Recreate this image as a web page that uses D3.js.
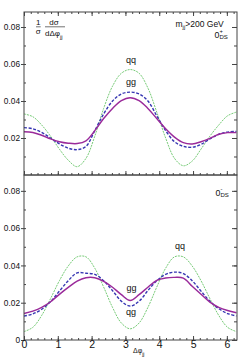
<!DOCTYPE html>
<html>
<head>
<meta charset="utf-8">
<script src="https://cdn.jsdelivr.net/npm/d3@7"></script>
<style>
body { margin: 0; background: #fff; }
text { font-family: "Liberation Sans", Arial, sans-serif; fill: #111; }
</style>
</head>
<body>
<script>
const W = 248;
const H = 358;

// delta phi_jj sample points (0 .. 2pi)
const phi = [0, 0.262, 0.524, 0.785, 1.047, 1.309, 1.571, 1.833, 2.094, 2.356, 2.618, 2.880, 3.142,
  3.403, 3.665, 3.927, 4.189, 4.451, 4.712, 4.974, 5.236, 5.498, 5.760, 6.021, 6.283];

// top panel, 0+ DS
const qqTop = [0.033, 0.0315, 0.027, 0.021, 0.014, 0.008, 0.0045, 0.009, 0.021, 0.036, 0.048, 0.055, 0.057,
  0.055, 0.047, 0.034, 0.020, 0.009, 0.005, 0.0075, 0.014, 0.021, 0.027, 0.032, 0.034];
const qgTop = [0.0256, 0.025, 0.023, 0.020, 0.0168, 0.0145, 0.0137, 0.0155, 0.024, 0.033, 0.040, 0.0438, 0.0448,
  0.0438, 0.040, 0.032, 0.024, 0.018, 0.0155, 0.015, 0.0165, 0.0195, 0.022, 0.0232, 0.0236];
const ggTop = [0.0234, 0.023, 0.0215, 0.0195, 0.018, 0.0172, 0.017, 0.0185, 0.024, 0.0305, 0.036, 0.0402, 0.0418,
  0.0402, 0.036, 0.0305, 0.025, 0.0205, 0.0175, 0.0168, 0.018, 0.0198, 0.022, 0.0229, 0.0229];

// bottom panel, 0- DS
const qqBot = [0.0045, 0.0068, 0.0132, 0.0222, 0.0318, 0.0397, 0.0446, 0.0446, 0.0385, 0.0284, 0.0175, 0.0091, 0.006,
  0.0091, 0.0175, 0.0284, 0.0385, 0.0446, 0.0446, 0.0397, 0.0318, 0.0222, 0.0132, 0.0068, 0.0045];
const qgBot = [0.0128, 0.014, 0.0165, 0.0205, 0.0262, 0.0318, 0.036, 0.0358, 0.0352, 0.0318, 0.0265, 0.0208, 0.0182,
  0.0208, 0.0265, 0.0318, 0.0352, 0.0364, 0.0356, 0.0318, 0.0262, 0.0208, 0.0168, 0.0142, 0.0129];
const ggBot = [0.0142, 0.0155, 0.0175, 0.0205, 0.0245, 0.0282, 0.0316, 0.0334, 0.0334, 0.0315, 0.0283, 0.0243, 0.0212,
  0.0243, 0.0283, 0.032, 0.0333, 0.0336, 0.0332, 0.0288, 0.0245, 0.0203, 0.0175, 0.0158, 0.0146];

const xTicks = [0, 1, 2, 3, 4, 5, 6];
const xTickLabels = ["0", "1", "2", "3", "4", "5", "6"];
const yTicksTop = [0.02, 0.04, 0.06, 0.08];
const yTicksBot = [0, 0.02, 0.04, 0.06, 0.08];

const styles = [
  { color: "#66c466", width: 0.9, dash: "2,1" },
  { color: "#3535b2", width: 1.4, dash: "3,1.6" },
  { color: "#9a2a9a", width: 1.45, dash: null }
];

const svg = d3.select("body").append("svg").attr("width", W).attr("height", H);
const x = d3.scaleLinear().domain([0, 6.3]).range([24, 237]);

const panels = [
  { y: d3.scaleLinear().domain([0, 0.0881]).range([175, 12]), top: 12, bottom: 175,
    ticks: yTicksTop, series: [qqTop, qgTop, ggTop], topAxis: true },
  { y: d3.scaleLinear().domain([0, 0.0885]).range([340, 175]), top: 175, bottom: 340,
    ticks: yTicksBot, series: [qqBot, qgBot, ggBot], topAxis: false }
];

const fmt = d => d === 0 ? "0" : d3.format(".2f")(d);
const minorY = d3.range(0.01, 0.085, 0.01);
const minorX = d3.range(0, 6.3, 0.2);

function tidy(g) {
  g.select(".domain").remove();
  g.selectAll("line").attr("stroke", "#444");
  return g;
}

panels.forEach(p => {
  const line = d3.line().x((d, i) => x(phi[i])).y(d => p.y(d)).curve(d3.curveCatmullRom);
  p.series.forEach((s, k) => {
    svg.append("path").datum(s)
      .attr("d", line)
      .attr("fill", "none")
      .attr("stroke", styles[k].color)
      .attr("stroke-width", styles[k].width)
      .attr("stroke-dasharray", styles[k].dash);
  });

  // frame
  svg.append("rect")
    .attr("x", 24).attr("y", p.top)
    .attr("width", 213).attr("height", p.bottom - p.top)
    .attr("fill", "none").attr("stroke", "#444").attr("stroke-width", 1);

  // left axis, labels + outward ticks
  const gl = svg.append("g").attr("transform", "translate(24,0)")
    .call(d3.axisLeft(p.y).tickValues(p.ticks).tickSize(3).tickPadding(1).tickFormat(fmt));
  tidy(gl).attr("font-size", 8.3);
  // inward small ticks on the left
  tidy(svg.append("g").attr("transform", "translate(24,0)")
    .call(d3.axisRight(p.y).tickValues(minorY).tickSize(2).tickFormat("")));
  // right side ticks
  tidy(svg.append("g").attr("transform", "translate(237,0)")
    .call(d3.axisLeft(p.y).tickValues(p.ticks).tickSize(5).tickFormat("")));
  tidy(svg.append("g").attr("transform", "translate(237,0)")
    .call(d3.axisLeft(p.y).tickValues(minorY).tickSize(3).tickFormat("")));

  // x ticks pointing into the panel
  tidy(svg.append("g").attr("transform", `translate(0,${p.bottom})`)
    .call(d3.axisTop(x).tickValues(xTicks).tickSize(4).tickFormat("")));
  tidy(svg.append("g").attr("transform", `translate(0,${p.bottom})`)
    .call(d3.axisTop(x).tickValues(minorX).tickSize(2).tickFormat("")));
  if (p.topAxis) {
    tidy(svg.append("g").attr("transform", `translate(0,${p.top})`)
      .call(d3.axisBottom(x).tickValues(xTicks).tickSize(4).tickFormat("")));
    tidy(svg.append("g").attr("transform", `translate(0,${p.top})`)
      .call(d3.axisBottom(x).tickValues(minorX).tickSize(2).tickFormat("")));
  }
});

// x tick labels under the bottom panel
const gx = svg.append("g").attr("transform", "translate(0,340)")
  .call(d3.axisBottom(x).tickValues(xTicks).tickSize(0).tickPadding(1)
    .tickFormat((d, i) => xTickLabels[i]));
gx.select(".domain").remove();
gx.attr("font-size", 10.5);

// curve labels
const labels = [
  { t: "qq", x: 131, y: 63 },
  { t: "gg", x: 131, y: 85 },
  { t: "qq", x: 180, y: 248.5 },
  { t: "gg", x: 131.5, y: 291 },
  { t: "qg", x: 131, y: 315 }
];
svg.selectAll(".clab").data(labels).enter().append("text")
  .attr("class", "clab")
  .attr("x", d => d.x).attr("y", d => d.y)
  .attr("text-anchor", "middle")
  .attr("font-size", 9)
  .text(d => d.t);

// y title: 1/sigma dsigma/dDeltaphi_jj
const yt = svg.append("g").attr("font-size", 8);
yt.append("text").attr("x", 38.3).attr("y", 25).attr("text-anchor", "middle").text("1");
yt.append("line").attr("x1", 36).attr("x2", 40.7).attr("y1", 26.8).attr("y2", 26.8)
  .attr("stroke", "#111").attr("stroke-width", 0.6);
yt.append("text").attr("x", 38.3).attr("y", 33.5).attr("text-anchor", "middle").text("σ");
yt.append("text").attr("x", 54).attr("y", 25).attr("text-anchor", "middle").text("dσ");
yt.append("line").attr("x1", 45).attr("x2", 65).attr("y1", 26.8).attr("y2", 26.8)
  .attr("stroke", "#111").attr("stroke-width", 0.6);
const den = yt.append("text").attr("x", 45).attr("y", 35.5);
den.append("tspan").text("dΔφ");
den.append("tspan").attr("dy", 3.5).attr("font-size", 5.8).text("jj");

// m_jj > 200 GeV
const mt = svg.append("text").attr("x", 175.5).attr("y", 26.5).attr("font-size", 8.5);
mt.append("tspan").text("m");
mt.append("tspan").attr("dy", 2.5).attr("font-size", 6).text("jj");
mt.append("tspan").attr("dy", -2.5).text(">200 GeV");

// model tags
function tag(x0, y0, sign) {
  const g = svg.append("g");
  g.append("text").attr("x", x0).attr("y", y0).attr("font-size", 8.8).text("0");
  g.append("text").attr("x", x0 + 5).attr("y", y0 - 4.6).attr("font-size", 5.8).text(sign);
  g.append("text").attr("x", x0 + 5).attr("y", y0 + 1.4).attr("font-size", 6).text("DS");
}
tag(214.5, 37.5, "+");
tag(215.5, 196, "-");

// x title
const xt = svg.append("text").attr("x", 133).attr("y", 353).attr("font-size", 7);
xt.append("tspan").text("Δφ");
xt.append("tspan").attr("dy", 3).attr("font-size", 5).text("jj");
</script>
</body>
</html>
